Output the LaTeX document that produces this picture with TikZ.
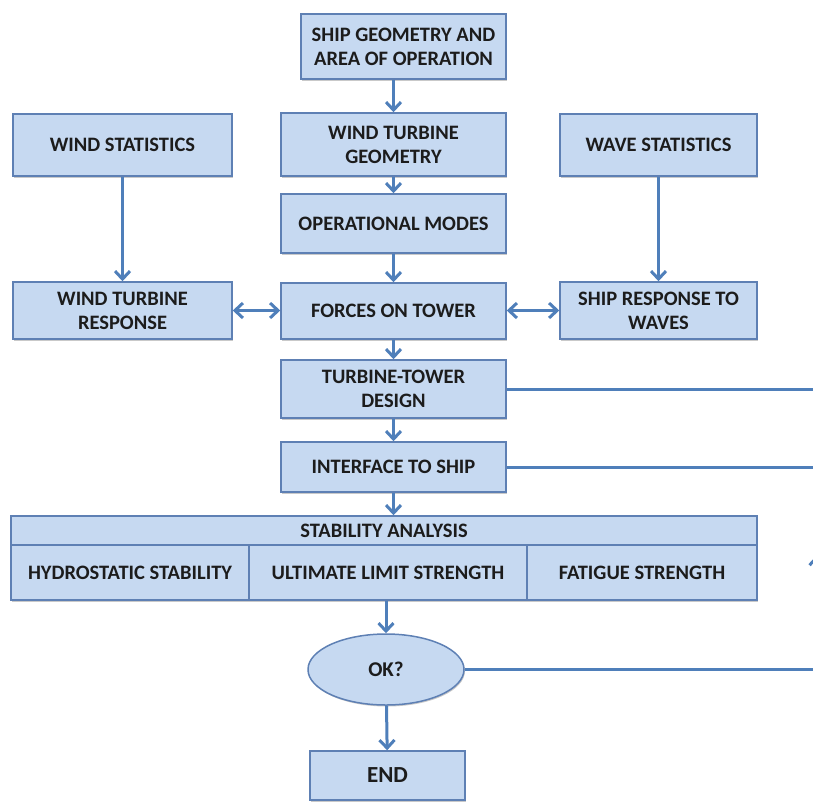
\documentclass[tikz,border=0pt]{standalone}
\usepackage{fontspec}
\setmainfont{Carlito}
\usetikzlibrary{arrows.meta,shapes.geometric,shadows}
\definecolor{boxfill}{HTML}{C6D9F1}
\definecolor{boxline}{HTML}{5E80B4}
\definecolor{flowblue}{HTML}{4F7FBA}
\definecolor{boxtext}{HTML}{1C1C1C}
\tikzset{
  blk/.style={draw=boxline,line width=1.5pt,fill=boxfill,text=boxtext,
    font=\fontsize{20.5}{24}\selectfont\bfseries,align=center,inner sep=0pt,
    drop shadow={shadow xshift=1pt,shadow yshift=-1.5pt,opacity=.3,fill=black!70}},
  flow/.style={draw=flowblue,line width=3pt,-{Straight Barb[length=8pt,width=15pt]}},
  both/.style={draw=flowblue,line width=3pt,
    {Straight Barb[length=8pt,width=15pt]}-{Straight Barb[length=8pt,width=15pt]}},
  loop/.style={draw=flowblue,line width=3pt},
}

\begin{document}
\begin{tikzpicture}[x=1pt,y=-1pt]
    \useasboundingbox (0,0) rectangle (813,801);
    % main column
    \node[blk,minimum width=205,minimum height=65] (geom) at (403.5,46.5) {SHIP GEOMETRY AND\\AREA OF OPERATION};
    \node[blk,minimum width=225,minimum height=63] (turbgeom) at (393.5,144.5) {WIND TURBINE\\GEOMETRY};
    \node[blk,minimum width=225,minimum height=59] (modes) at (393.5,223.5) {OPERATIONAL MODES};
    \node[blk,minimum width=225,minimum height=56] (forces) at (393.5,311) {FORCES ON TOWER};
    \node[blk,minimum width=225,minimum height=58] (design) at (393.5,389) {TURBINE-TOWER\\DESIGN};
    \node[blk,minimum width=225,minimum height=50] (iface) at (393.5,467) {INTERFACE TO SHIP};
    % side columns
    \node[blk,minimum width=219,minimum height=62] (windstat) at (122.5,145) {WIND STATISTICS};
    \node[blk,minimum width=219,minimum height=57] (windresp) at (122.5,310.5) {WIND TURBINE\\RESPONSE};
    \node[blk,minimum width=197,minimum height=62] (wavestat) at (658.5,145) {WAVE STATISTICS};
    \node[blk,minimum width=197,minimum height=57] (shipresp) at (658.5,310.5) {SHIP RESPONSE TO\\WAVES};
    % stability block
    \node[blk,minimum width=746,minimum height=29] (stab) at (384,530.5) {STABILITY ANALYSIS};
    \node[blk,minimum width=238,minimum height=55] (hydro) at (130,572.5) {HYDROSTATIC STABILITY};
    \node[blk,minimum width=278,minimum height=55] (uls) at (388,572.5) {ULTIMATE LIMIT STRENGTH};
    \node[blk,minimum width=230,minimum height=55] (fatigue) at (642,572.5) {FATIGUE STRENGTH};
    \node[blk,ellipse,minimum width=156,minimum height=71,font=\fontsize{21}{25}\selectfont\bfseries] (ok) at (386,669.5) {OK?};
    \node[blk,minimum width=155,minimum height=49,font=\fontsize{23}{27}\selectfont\bfseries] (end) at (387.5,775.5) {END};

    \draw[flow] (geom.south -| turbgeom.north) -- (turbgeom.north);
    \draw[flow] (turbgeom) -- (modes);
    \draw[flow] (modes) -- (forces);
    \draw[flow] (forces) -- (design);
    \draw[flow] (design) -- (iface);
    \draw[flow] (iface.south) -- (iface.south |- stab.north);
    \draw[flow] (windstat) -- (windresp);
    \draw[flow] (wavestat) -- (shipresp);
    \draw[both] (windresp.east) -- (windresp.east -| forces.west);
    \draw[both] (shipresp.west) -- (shipresp.west -| forces.east);
    \draw[flow] (ok.north |- hydro.south) -- (ok.north);
    \draw[flow] (ok) -- (end);

    % loop back along the right edge
    \coordinate (fbx) at (817,0);
    \coordinate (fbdesign) at (design.east -| fbx);
    \coordinate (fbiface) at (iface.east -| fbx);
    \coordinate (fbok) at (ok.east -| fbx);
    \coordinate (fbtip) at (817,555);
    \draw[loop] (design.east) -- (fbdesign);
    \draw[loop] (iface.east) -- (fbiface);
    \draw[loop] (ok.east) -- (fbok);
    \draw[flow] (fbok) -- (fbtip);
    \draw[loop] (fbtip) -- (fbdesign);
\end{tikzpicture}
\end{document}
